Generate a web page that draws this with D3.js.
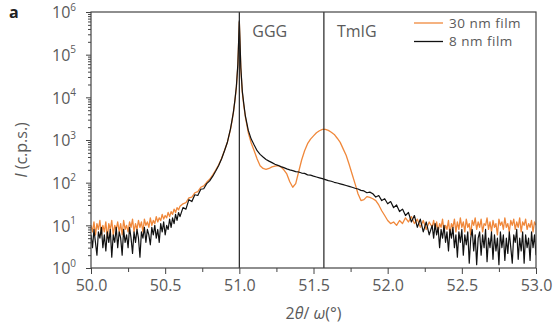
<!DOCTYPE html>
<html>
<head>
<meta charset="utf-8">
<script src="https://cdn.jsdelivr.net/npm/d3@7"></script>
<style>
  body { margin: 0; background: #fff; }
  text { font-family: "Open Sans", sans-serif; }
</style>
</head>
<body>
<svg id="chart" width="553" height="331"></svg>
<script>
// scan angle, 2theta/omega (deg)
const angle = [
  50.00,50.01,50.02,50.03,50.04,50.05,50.06,50.07,50.08,50.09,
  50.10,50.11,50.12,50.13,50.14,50.15,50.16,50.17,50.18,50.19,
  50.20,50.21,50.22,50.23,50.24,50.25,50.26,50.27,50.28,50.29,
  50.30,50.31,50.32,50.33,50.34,50.35,50.36,50.37,50.38,50.39,
  50.40,50.41,50.42,50.43,50.44,50.45,50.46,50.47,50.48,50.49,
  50.50,50.51,50.52,50.53,50.54,50.55,50.56,50.57,50.58,50.59,
  50.60,
  50.62,50.64,50.66,50.68,50.70,50.72,50.74,50.76,50.78,50.80,50.82,50.84,50.86,50.88,50.90,
  50.92,50.94,50.95,50.96,50.97,50.98,50.99,51.00,51.01,51.02,51.03,51.04,51.06,51.08,
  51.10,51.12,51.14,51.16,51.18,51.20,51.22,51.24,51.26,51.28,
  51.30,51.32,51.34,51.36,51.38,51.40,51.42,51.44,51.46,51.48,
  51.50,51.52,51.54,51.56,51.58,51.60,51.62,51.64,51.66,51.68,
  51.70,51.72,51.74,51.76,51.78,51.80,51.82,51.84,51.86,51.88,
  51.90,51.92,51.94,51.96,51.98,52.00,52.02,52.04,52.06,52.08,
  52.10,52.12,52.14,52.16,52.18,52.20,52.22,52.24,52.26,52.28,
  52.30,
  52.31,52.32,52.33,52.34,52.35,52.36,52.37,52.38,52.39,52.40,
  52.41,52.42,52.43,52.44,52.45,52.46,52.47,52.48,52.49,52.50,
  52.51,52.52,52.53,52.54,52.55,52.56,52.57,52.58,52.59,52.60,
  52.61,52.62,52.63,52.64,52.65,52.66,52.67,52.68,52.69,52.70,
  52.71,52.72,52.73,52.74,52.75,52.76,52.77,52.78,52.79,52.80,
  52.81,52.82,52.83,52.84,52.85,52.86,52.87,52.88,52.89,52.90,
  52.91,52.92,52.93,52.94,52.95,52.96,52.97,52.98,52.99,53.00
];

// intensity, c.p.s.
const film30 = [
  10,7,12,6,11,8,13,6,10,7,
  12,5,11,8,13,6,10,8,12,7,
  11,6,13,8,10,7,12,9,14,7,
  11,8,13,9,12,7,14,10,12,9,
  15,10,13,11,16,12,15,13,18,14,
  17,15,20,16,21,18,24,20,26,23,
  28,
  32,34,44,46,58,62,78,84,102,120,150,195,260,370,570,
  900,1750,2700,4400,8200,17000,55000,580000,48000,13000,6500,3600,1500,850,
  560,360,250,215,205,215,235,245,250,235,
  200,160,105,78,95,180,340,560,820,1050,
  1250,1480,1650,1770,1780,1680,1520,1350,1100,880,
  620,440,270,160,95,55,38,40,47,45,
  42,38,30,22,17,13,11,12,10,13,
  11,15,12,16,11,14,9,13,8,12,
  9,
  13,8,12,7,11,9,14,7,10,8,
  13,6,11,9,14,7,12,8,15,9,
  12,7,14,9,11,6,13,10,15,8,
  12,9,14,7,11,10,15,8,12,7,
  13,9,11,6,14,10,12,8,15,9,
  11,7,13,10,14,8,12,9,15,7,
  12,10,14,8,11,9,13,7,12,10
];

const film8 = [
  6,3,8,4,2,7,5,9,3,6,
  2.5,7,4,8,1.8,6,4,9,3,7,
  5,2,8,4,6,3,9,5,2.2,7,
  4,8,5,1.8,7,5,9,4,8,6,
  3.5,9,6,10,5,8,4,11,7,12,
  6,10,8,14,9,15,11,18,13,20,
  16,
  26,24,40,36,52,50,70,72,95,110,140,185,250,360,560,
  900,1800,2800,4500,8500,18000,60000,620000,50000,14000,7000,3800,1700,1050,
  760,560,460,400,350,320,295,270,255,238,
  225,210,200,192,182,178,168,165,152,150,
  142,136,130,124,118,112,108,102,98,94,
  90,86,82,78,74,71,66,64,58,60,
  55,46,50,38,42,32,36,26,30,21,
  24,17,20,12,17,9,14,7,12,6,
  10,
  5,11,6,9,3,8,5,10,4,7,
  2.5,8,5,9,3,6,1.8,7,4,8,
  2,6,3.5,7,1.3,5,8,2.5,6,1.2,
  5,7,2,6,3,8,1.4,5,3,7,
  1.6,6,2.5,5,1.2,7,3,6,1.5,5,
  2.2,7,3,1.3,6,4,8,1.6,5,2.5,
  7,1.3,6,3,5,1.5,7,3,6,2
];

const xTicks = [50.0, 50.5, 51.0, 51.5, 52.0, 52.5, 53.0];
const xMinor = [50.25, 50.75, 51.25, 51.75, 52.25, 52.75];
const yExponents = [0, 1, 2, 3, 4, 5, 6];
const refPos = [51.0, 51.57];
const refNames = ["GGG", "TmIG"];
const seriesNames = ["30 nm film", "8 nm film"];
const seriesColors = ["#f0883b", "#111111"];

const axisColor = "#444";
const textColor = "#5a5a5a";

const svg = d3.select("#chart");
const width = 553, height = 331;
const margin = { left: 91, right: 17, top: 12, bottom: 63 };

const x = d3.scaleLinear().domain([50, 53]).range([margin.left, width - margin.right]);
const y = d3.scaleLog().domain([1, 1e6]).range([height - margin.bottom, margin.top]);

// x axis, major + minor ticks
let gx = svg.append("g")
    .attr("transform", "translate(0," + y(1) + ")")
    .call(d3.axisBottom(x).tickValues(xTicks).tickFormat(d3.format(".1f")).tickSize(6).tickPadding(6));
gx.select(".domain").remove();
gx.selectAll("line").attr("stroke", axisColor);
gx.selectAll("text").attr("fill", textColor).style("font-size", "16px");

let gxm = svg.append("g")
    .attr("transform", "translate(0," + y(1) + ")")
    .call(d3.axisBottom(x).tickValues(xMinor).tickFormat("").tickSize(4));
gxm.select(".domain").remove();
gxm.selectAll("line").attr("stroke", axisColor);

// y axis
let yMajor = yExponents.map(e => Math.pow(10, e));
let yMinor = [];
yExponents.slice(0, -1).forEach(e => {
    for (let m = 2; m <= 9; m++) yMinor.push(m * Math.pow(10, e));
});

let gy = svg.append("g")
    .attr("transform", "translate(" + x(50) + ",0)")
    .call(d3.axisLeft(y).tickValues(yMajor).tickFormat("").tickSize(5).tickPadding(10));
gy.select(".domain").remove();
gy.selectAll("line").attr("stroke", axisColor);
gy.selectAll(".tick text").each(function (d) {
    let t = d3.select(this)
        .attr("fill", textColor)
        .style("font-size", "16px")
        .attr("dy", "0.36em");
    t.append("tspan").text("10");
    t.append("tspan").text(Math.round(Math.log10(d)))
        .style("font-size", "10px")
        .attr("dy", "-0.75em");
});

let gym = svg.append("g")
    .attr("transform", "translate(" + x(50) + ",0)")
    .call(d3.axisLeft(y).tickValues(yMinor).tickFormat("").tickSize(3));
gym.select(".domain").remove();
gym.selectAll("line").attr("stroke", axisColor);

// curves
svg.append("clipPath").attr("id", "plot-clip")
    .append("rect")
    .attr("x", x(50)).attr("y", y(1e6))
    .attr("width", x(53) - x(50)).attr("height", y(1) - y(1e6));

let line = d3.line()
    .x(d => x(d[0]))
    .y(d => y(d[1]));

let curves = svg.append("g").attr("clip-path", "url(#plot-clip)");
curves.append("path")
    .datum(d3.zip(angle, film30))
    .attr("fill", "none")
    .attr("stroke", seriesColors[0])
    .attr("stroke-width", 1.3)
    .attr("stroke-linejoin", "round")
    .attr("d", line);
curves.append("path")
    .datum(d3.zip(angle, film8))
    .attr("fill", "none")
    .attr("stroke", seriesColors[1])
    .attr("stroke-width", 1.2)
    .attr("stroke-linejoin", "round")
    .attr("d", line);

// reference lines
refPos.forEach((p, i) => {
    svg.append("line")
        .attr("x1", x(p)).attr("x2", x(p))
        .attr("y1", y(1e6)).attr("y2", y(1))
        .attr("stroke", "#222")
        .attr("stroke-width", 1.2);
    svg.append("text")
        .attr("x", x(p) + 13)
        .attr("y", 37)
        .attr("fill", textColor)
        .style("font-size", "16px")
        .text(refNames[i]);
});

// frame
svg.append("rect")
    .attr("x", x(50)).attr("y", y(1e6))
    .attr("width", x(53) - x(50)).attr("height", y(1) - y(1e6))
    .attr("fill", "none")
    .attr("stroke", axisColor)
    .attr("stroke-width", 1.2);

// legend
seriesNames.forEach((name, i) => {
    let ly = 23 + i * 18.5;
    svg.append("line")
        .attr("x1", 414).attr("x2", 443)
        .attr("y1", ly).attr("y2", ly)
        .attr("stroke", seriesColors[i])
        .attr("stroke-width", 1.3);
    svg.append("text")
        .attr("x", 449).attr("y", ly)
        .attr("dy", "0.35em")
        .attr("fill", textColor)
        .style("font-size", "13.5px")
        .style("letter-spacing", "0.5px")
        .text(name);
});

// axis titles
let xt = svg.append("text")
    .attr("x", (x(50) + x(53)) / 2)
    .attr("y", 319)
    .attr("text-anchor", "middle")
    .attr("fill", textColor)
    .style("font-size", "16px");
xt.append("tspan").text("2");
xt.append("tspan").style("font-style", "italic").text("θ");
xt.append("tspan").text("/ ");
xt.append("tspan").style("font-style", "italic").text("ω");
xt.append("tspan").text("(°)");

let yt = svg.append("text")
    .attr("transform", "translate(27,150) rotate(-90)")
    .attr("text-anchor", "middle")
    .attr("fill", textColor)
    .style("font-size", "16px");
yt.append("tspan").style("font-style", "italic").text("I");
yt.append("tspan").text(" (c.p.s.)");

svg.append("text")
    .attr("x", 9).attr("y", 18)
    .attr("fill", "#222")
    .style("font-size", "16px")
    .style("font-weight", "bold")
    .text("a");
</script>
</body>
</html>
